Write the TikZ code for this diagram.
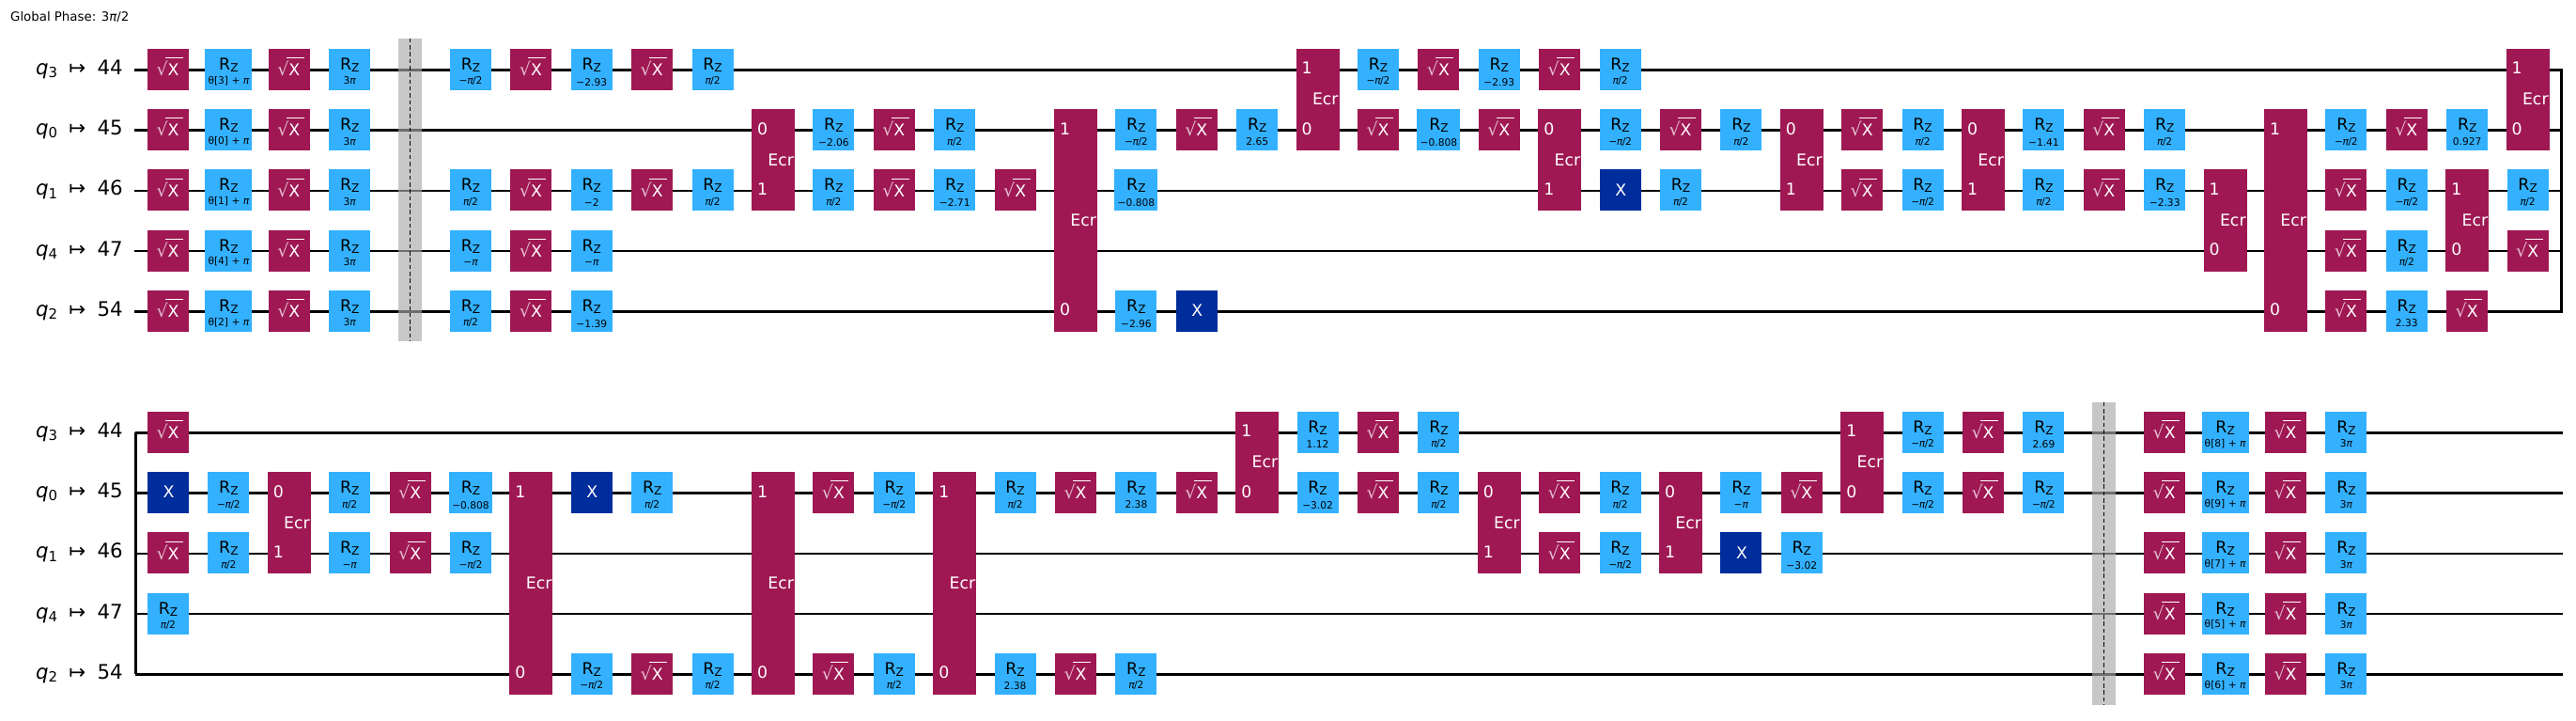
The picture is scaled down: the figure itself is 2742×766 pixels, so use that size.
\documentclass[tikz,border=0pt]{standalone}
\usepackage{fontspec}
\setmainfont{DejaVu Sans}
\definecolor{sxc}{HTML}{9F1853}
\definecolor{rzc}{HTML}{33B1FF}
\definecolor{xc}{HTML}{002D9C}
\definecolor{barc}{HTML}{A9A9A9}
\newcommand\fsz[1]{\fontsize{#1}{#1}\selectfont}
\newcommand\ptxc[3]{\makebox[0pt][l]{\kern#1pt\makebox[0pt][c]{\raisebox{\dimexpr-#2pt\relax}[0pt][0pt]{#3}}}}
\newcommand\ptxl[3]{\makebox[0pt][l]{\kern#1pt\raisebox{\dimexpr-#2pt\relax}[0pt][0pt]{#3}}}
\newcommand\itpi{{\itshape π}}
\newcommand\halfpi{\itpi\kern-.6pt/\kern-.2pt2}
\newcommand\mhalfpi{−\kern-.3pt\halfpi}
\newcommand\minpi{−\itpi}
\newcommand\threepi{3\itpi}
\newcommand\gpos[3]{\pgfmathsetmacro\gxx{179+64.4*#2}\pgfmathsetmacro\gyy{(#1==1?74.3:460.3)+64.25*#3}}
\newcommand\rzbody[2]{\ptxc{0}{0.5}{\fsz{17.33}R\raisebox{-2pt}{\fsz{12.1}Z}}\ptxc{0}{#1}{\fsz{10.67}#2}}
\newcommand\grb[6]{\gpos{#2}{#3}{#4}\node[rzbox,minimum width=#1pt] (rz-#2-#3-#4) at (\gxx,\gyy-0.5) {\rzbody{#5}{#6}};}
\newcommand\qrz[5][16]{\grb{44}{#2}{#3}{#4}{#1}{#5}}
\newcommand\qrn[4]{\qrz[17.3]{#1}{#2}{#3}{#4}}
\newcommand\qrp[4]{\qrz[16.3]{#1}{#2}{#3}{#4}}
\newcommand\qrw[4]{\grb{46}{#1}{#2}{#3}{17.3}{#4}}
\newcommand\qrt[4]{\grb{50}{#1}{#2}{#3}{15.2}{θ[#4] + \itpi}}
\newcommand\qsx[3]{\gpos{#1}{#2}{#3}\node[sxbox] (sx-#1-#2-#3) at (\gxx,\gyy-0.5) {\ptxl{-12.5}{6.9}{\fsz{19}\color{white!72!sxc}√}\ptxl{-3}{-12}{\rule{19pt}{0.8pt}}\ptxc{5.6}{6.9}{\fsz{17.33}X}};}
\newcommand\qxx[3]{\gpos{#1}{#2}{#3}\node[xbox] (x-#1-#2-#3) at (\gxx,\gyy-0.5) {\ptxc{0.6}{5.8}{\fsz{17.33}X}};}
\newcommand\qecr[5]{\gpos{#1}{#2}{#3}\pgfmathsetmacro\gh{44+64.25*(#4-#3)}\pgfmathsetmacro\gyc{\gyy-0.5+64.25*(#4-#3)/2}\pgfmathsetmacro\gta{5-64.25*(#4-#3)/2}\pgfmathsetmacro\gtb{5+64.25*(#4-#3)/2}%
\node[ecrbox,minimum height=\gh pt] (ecr-#1-#2-#3) at (\gxx,\gyc) {\ptxc{8.2}{6.0}{\fsz{17.33}Ecr}\ptxc{-11.4}{\gta}{\fsz{17.33}#5}\ptxc{-11.4}{\gtb}{\fsz{17.33}\ifnum#5=0 1\else 0\fi}};}
\newcommand\qlabel[4]{\node[lab] (lab-#1-#3) at (131,{(#1==1?74.3:460.3)+64.25*#3+5}) {\itshape q\upshape\raisebox{-3.3pt}{\fsz{14.93}#2}\kern12.3pt↦\kern12.3pt#4};}
\tikzset{
  wire/.style={line width=2.5pt,black},
  gatebox/.style={draw=none,inner sep=0pt,minimum size=44pt},
  rzbox/.style={gatebox,fill=rzc,text=black},
  sxbox/.style={gatebox,fill=sxc,text=white},
  xbox/.style={gatebox,fill=xc,text=white},
  ecrbox/.style={draw=none,inner sep=0pt,minimum width=46pt,fill=sxc,text=white},
  bandbox/.style={draw=none,inner sep=0pt,minimum width=25pt,minimum height=322pt,fill=barc,fill opacity=.65},
  bardash/.style={line width=1.3pt,black,dash pattern=on 4.5pt off 2.8pt},
  lab/.style={anchor=base east,inner sep=0pt,font=\fsz{21.33}},
}
\begin{document}
\begin{tikzpicture}[x=1pt,y=-1pt]
\path[fill=white,use as bounding box] (0,0) rectangle (2742,766);
\node[anchor=base west,inner sep=0pt,font=\fsz{13.33}] (phase) at (11,22.7) {Global Phase: 3\itpi/2};
% wires
\foreach \r in {0,...,4}{
  \coordinate (as\r) at (143,{74.3+64.25*\r});
  \coordinate (ae\r) at (2727.7,{74.3+64.25*\r});
  \coordinate (bs\r) at (143.5,{460.3+64.25*\r});
  \coordinate (be\r) at (2727.7,{460.3+64.25*\r});
  \draw[wire] (as\r) -- (ae\r);
  \draw[wire] (bs\r) -- (be\r);
}
\coordinate (wt) at (2726.3,74.3); \coordinate (wb) at (2726.3,331.3);
\coordinate (vt) at (144.5,460.3); \coordinate (vb) at (144.5,717.3);
\draw[wire,line cap=square] (wt) -- (wb);
\draw[wire,line cap=square] (vt) -- (vb);
% barriers
\node[bandbox] (bar1) at (436.7,202) {};
\node[bandbox] (bar2) at (2239.3,589) {};
\draw[bardash] (bar1.north) -- (bar1.south);
\draw[bardash] (bar2.north) -- (bar2.south);
% labels
\foreach \l in {1,2}{
  \qlabel{\l}{3}{0}{44}
  \qlabel{\l}{0}{1}{45}
  \qlabel{\l}{1}{2}{46}
  \qlabel{\l}{4}{3}{47}
  \qlabel{\l}{2}{4}{54}
}
% ---------- first line
\foreach \r/\t in {0/3,1/0,2/1,3/4,4/2}{
  \qsx{1}{0}{\r}
  \qrt{1}{1}{\r}{\t}
  \qsx{1}{2}{\r}
  \qrz{1}{3}{\r}{\threepi}
}
\qrz{1}{5}{0}{\mhalfpi}\qsx{1}{6}{0}\qrn{1}{7}{0}{−2.93}\qsx{1}{8}{0}\qrz{1}{9}{0}{\halfpi}
\qrz{1}{5}{2}{\halfpi}\qsx{1}{6}{2}\qrn{1}{7}{2}{−2}\qsx{1}{8}{2}\qrz{1}{9}{2}{\halfpi}
\qrz{1}{5}{3}{\minpi}\qsx{1}{6}{3}\qrz{1}{7}{3}{\minpi}
\qrz{1}{5}{4}{\halfpi}\qsx{1}{6}{4}\qrn{1}{7}{4}{−1.39}
\qecr{1}{10}{1}{2}{0}
\qrn{1}{11}{1}{−2.06}\qrz{1}{11}{2}{\halfpi}
\qsx{1}{12}{1}\qsx{1}{12}{2}
\qrz{1}{13}{1}{\halfpi}\qrn{1}{13}{2}{−2.71}
\qsx{1}{14}{2}
\qecr{1}{15}{1}{4}{1}
\qrz{1}{16}{1}{\mhalfpi}\qrw{1}{16}{2}{−0.808}\qrn{1}{16}{4}{−2.96}
\qsx{1}{17}{1}\qxx{1}{17}{4}
\qrp{1}{18}{1}{2.65}
\qecr{1}{19}{0}{1}{1}
\qrz{1}{20}{0}{\mhalfpi}\qsx{1}{20}{1}
\qsx{1}{21}{0}\qrw{1}{21}{1}{−0.808}
\qrn{1}{22}{0}{−2.93}\qsx{1}{22}{1}
\qsx{1}{23}{0}\qecr{1}{23}{1}{2}{0}
\qrz{1}{24}{0}{\halfpi}\qrz{1}{24}{1}{\mhalfpi}\qxx{1}{24}{2}
\qsx{1}{25}{1}\qrz{1}{25}{2}{\halfpi}
\qrz{1}{26}{1}{\halfpi}
\qecr{1}{27}{1}{2}{0}
\qsx{1}{28}{1}\qsx{1}{28}{2}
\qrz{1}{29}{1}{\halfpi}\qrz{1}{29}{2}{\mhalfpi}
\qecr{1}{30}{1}{2}{0}
\qrn{1}{31}{1}{−1.41}\qrz{1}{31}{2}{\halfpi}
\qsx{1}{32}{1}\qsx{1}{32}{2}
\qrz{1}{33}{1}{\halfpi}\qrn{1}{33}{2}{−2.33}
\qecr{1}{34}{2}{3}{1}
\qecr{1}{35}{1}{4}{1}
\qrz{1}{36}{1}{\mhalfpi}\qsx{1}{36}{2}\qsx{1}{36}{3}\qsx{1}{36}{4}
\qsx{1}{37}{1}\qrz{1}{37}{2}{\mhalfpi}\qrz{1}{37}{3}{\halfpi}\qrp{1}{37}{4}{2.33}
\qrp{1}{38}{1}{0.927}\qecr{1}{38}{2}{3}{1}\qsx{1}{38}{4}
\qecr{1}{39}{0}{1}{1}\qrz{1}{39}{2}{\halfpi}\qsx{1}{39}{3}
% ---------- second line
\qsx{2}{0}{0}\qxx{2}{0}{1}\qsx{2}{0}{2}\qrz{2}{0}{3}{\halfpi}
\qrz{2}{1}{1}{\mhalfpi}\qrz{2}{1}{2}{\halfpi}
\qecr{2}{2}{1}{2}{0}
\qrz{2}{3}{1}{\halfpi}\qrz{2}{3}{2}{\minpi}
\qsx{2}{4}{1}\qsx{2}{4}{2}
\qrw{2}{5}{1}{−0.808}\qrz{2}{5}{2}{\mhalfpi}
\qecr{2}{6}{1}{4}{1}
\qxx{2}{7}{1}\qrz{2}{7}{4}{\mhalfpi}
\qrz{2}{8}{1}{\halfpi}\qsx{2}{8}{4}
\qrz{2}{9}{4}{\halfpi}
\qecr{2}{10}{1}{4}{1}
\qsx{2}{11}{1}\qsx{2}{11}{4}
\qrz{2}{12}{1}{\mhalfpi}\qrz{2}{12}{4}{\halfpi}
\qecr{2}{13}{1}{4}{1}
\qrz{2}{14}{1}{\halfpi}\qrp{2}{14}{4}{2.38}
\qsx{2}{15}{1}\qsx{2}{15}{4}
\qrp{2}{16}{1}{2.38}\qrz{2}{16}{4}{\halfpi}
\qsx{2}{17}{1}
\qecr{2}{18}{0}{1}{1}
\qrp{2}{19}{0}{1.12}\qrn{2}{19}{1}{−3.02}
\qsx{2}{20}{0}\qsx{2}{20}{1}
\qrz{2}{21}{0}{\halfpi}\qrz{2}{21}{1}{\halfpi}
\qecr{2}{22}{1}{2}{0}
\qsx{2}{23}{1}\qsx{2}{23}{2}
\qrz{2}{24}{1}{\halfpi}\qrz{2}{24}{2}{\mhalfpi}
\qecr{2}{25}{1}{2}{0}
\qrz{2}{26}{1}{\minpi}\qxx{2}{26}{2}
\qsx{2}{27}{1}\qrn{2}{27}{2}{−3.02}
\qecr{2}{28}{0}{1}{1}
\qrz{2}{29}{0}{\mhalfpi}\qrz{2}{29}{1}{\mhalfpi}
\qsx{2}{30}{0}\qsx{2}{30}{1}
\qrp{2}{31}{0}{2.69}\qrz{2}{31}{1}{\mhalfpi}
\foreach \r/\t in {0/8,1/9,2/7,3/5,4/6}{
  \qsx{2}{33}{\r}
  \qrt{2}{34}{\r}{\t}
  \qsx{2}{35}{\r}
  \qrz{2}{36}{\r}{\threepi}
}
\end{tikzpicture}
\end{document}
